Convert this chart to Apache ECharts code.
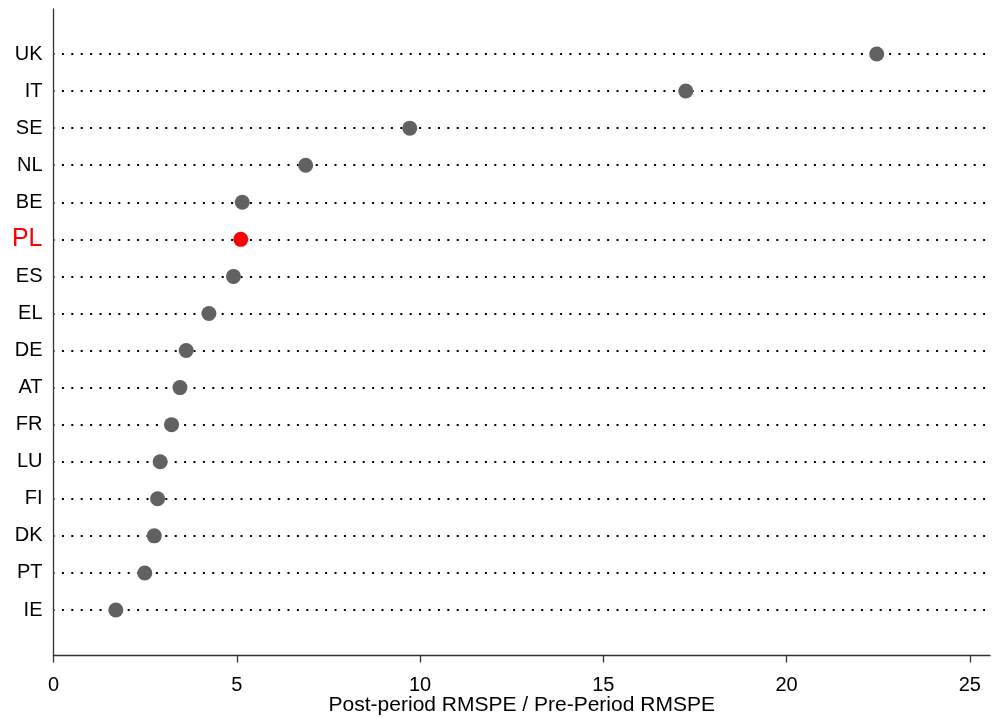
<!DOCTYPE html>
<html>
<head>
<meta charset="utf-8">
<script src="https://cdn.jsdelivr.net/npm/echarts@6/dist/echarts.min.js"></script>
<style>
  html, body { margin: 0; padding: 0; background: #fff; }
  #chart { width: 992px; height: 719px; }
</style>
</head>
<body>
<div id="chart"></div>
<script>
// countries, bottom to top
const countries = ["IE", "PT", "DK", "FI", "LU", "FR", "AT", "DE", "EL", "ES", "PL", "BE", "NL", "SE", "IT", "UK"];
const ratios = [1.70, 2.49, 2.75, 2.84, 2.91, 3.22, 3.45, 3.62, 4.24, 4.91, 5.11, 5.15, 6.88, 9.72, 17.25, 22.46];
const highlight = "PL";
const xTicks = [0, 5, 10, 15, 20, 25];
const xMax = 25.55; // axis runs a bit past the last tick

const fontName = "Liberation Sans, Arial, sans-serif";

let myChart = echarts.init(document.getElementById("chart"));

myChart.setOption({
  animation: false,
  grid: [
    // frame with the axes
    { left: 53.5, right: 2, top: 9, bottom: 63.5, outerBoundsMode: "none", containLabel: false },
    // dots and labels
    { left: 53.5, right: 2, top: 54, bottom: 109, outerBoundsMode: "none", containLabel: false },
  ],
  xAxis: [
    {
      gridIndex: 0,
      type: "value",
      min: 0,
      max: xMax,
      name: "Post-period RMSPE / Pre-Period RMSPE",
      nameLocation: "middle",
      nameGap: 39,
      nameMoveOverlap: false,
      nameTextStyle: { color: "#000", fontSize: 21, fontFamily: fontName },
      axisLine: { lineStyle: { color: "#333", width: 1.3 } },
      axisTick: {
        show: true,
        length: 7,
        customValues: xTicks,
        lineStyle: { color: "#333", width: 1.3 },
      },
      axisLabel: {
        color: "#000",
        fontSize: 20,
        fontFamily: fontName,
        margin: 20,
        customValues: xTicks,
      },
      splitLine: { show: false },
    },
    {
      gridIndex: 1,
      type: "value",
      min: 0,
      max: xMax,
      show: false,
    },
  ],
  yAxis: [
    {
      gridIndex: 0,
      type: "value",
      min: 0,
      max: 1,
      axisLine: { show: true, lineStyle: { color: "#333", width: 1.3 } },
      axisTick: { show: false },
      axisLabel: { show: false },
      splitLine: { show: false },
    },
    {
      gridIndex: 1,
      type: "category",
      data: countries,
      boundaryGap: false,
      axisLine: { show: false },
      axisTick: { show: false },
      axisLabel: {
        color: "#000",
        fontSize: 20,
        fontFamily: fontName,
        margin: 11,
        formatter: (v) => (v === highlight ? "{pl|" + v + "}" : v),
        rich: {
          pl: { color: "#ff0000", fontSize: 25, fontFamily: fontName },
        },
      },
      splitLine: {
        show: true,
        lineStyle: { color: "#000", width: 2, type: [2, 7.4], dashOffset: 1 },
      },
    },
  ],
  series: [
    {
      type: "scatter",
      xAxisIndex: 1,
      yAxisIndex: 1,
      symbolSize: 15,
      data: countries.map((c, i) => ({
        value: [ratios[i], c],
        itemStyle: { color: c === highlight ? "#ff0000" : "#616161", opacity: 1 },
      })),
      z: 5,
    },
  ],
});
</script>
</body>
</html>
